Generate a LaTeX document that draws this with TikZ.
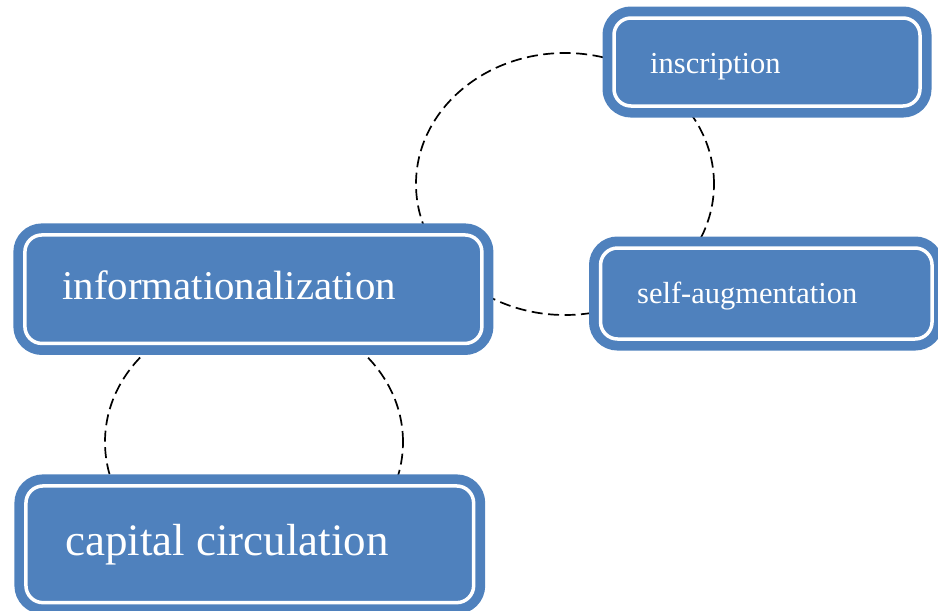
\documentclass[tikz,border=0pt]{standalone}
\usepackage{fontspec}
\setmainfont{Liberation Serif}
\definecolor{boxblue}{HTML}{4F81BD}
\begin{document}
\begin{tikzpicture}[x=1pt,y=-1pt,
  box/.style={draw=white, line width=3.5pt, fill=boxblue, rounded corners=17pt,
    preaction={draw=boxblue, line width=23pt}, inner sep=0pt},
  lbl/.style={text=white, anchor=base west, inner sep=0pt},
  loopline/.style={draw=black, line width=1.7pt, dash pattern=on 11pt off 5.5pt}]
\useasboundingbox (0,0) rectangle (938,611);
\clip (0,0) rectangle (938,611);
% dashed loops (behind the boxes)
\draw[loopline] (565,184) ellipse [x radius=149pt, y radius=131pt];
\draw[loopline] (254,442) ellipse [x radius=149pt, y radius=131pt];
% boxes
\node[box, minimum width=457pt, minimum height=108.5pt] (info) at (253.4,289.2) {};
\node[box, minimum width=306pt, minimum height=88pt] (insc) at (767,62) {};
\node[box, minimum width=331.5pt, minimum height=91pt] (self) at (766.3,293.5) {};
\node[box, minimum width=447.7pt, minimum height=116.7pt] (cap) at (249.8,544.3) {};
% labels
\node[lbl, font=\fontsize{40.9}{45}\selectfont] (infot) at (62,299) {informationalization};
\node[lbl, font=\fontsize{30.5}{34}\selectfont] (insct) at (650,73) {inscription};
\node[lbl, font=\fontsize{30.5}{34}\selectfont] (selft) at (637,303) {self-augmentation};
\node[lbl, font=\fontsize{45}{50}\selectfont] (capt) at (65,555) {capital circulation};
\end{tikzpicture}
\end{document}
